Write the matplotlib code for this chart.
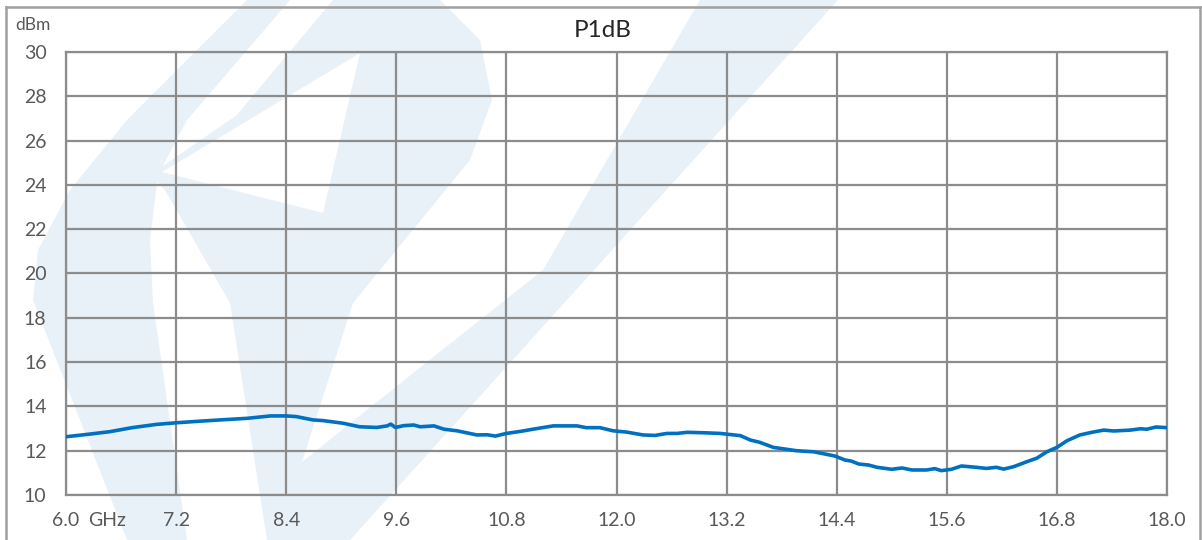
import matplotlib
matplotlib.use("Agg")
import matplotlib.pyplot as plt
from matplotlib.patches import Polygon
from matplotlib.lines import Line2D

plt.rcParams['font.family'] = ['Lato', 'DejaVu Sans']

# P1dB vs frequency
freq_ghz = [6.00, 6.26, 6.48, 6.72, 6.99, 7.20, 7.45, 7.68, 7.97, 8.23, 8.40, 8.51,
            8.69, 8.80, 9.02, 9.20, 9.39, 9.50, 9.54, 9.59, 9.68, 9.79, 9.86, 10.01,
            10.12, 10.26, 10.48, 10.59, 10.68, 10.80, 10.95, 11.09, 11.31, 11.57, 11.67,
            11.82, 11.96, 12.11, 12.29, 12.42, 12.55, 12.66, 12.77, 12.95, 13.13, 13.35,
            13.46, 13.56, 13.71, 13.96, 14.15, 14.38, 14.49, 14.56, 14.64, 14.75, 14.84,
            15.00, 15.11, 15.22, 15.38, 15.47, 15.54, 15.65, 15.76, 15.92, 16.03, 16.14,
            16.22, 16.33, 16.47, 16.58, 16.69, 16.80, 16.91, 17.05, 17.18, 17.31, 17.42,
            17.60, 17.71, 17.78, 17.88, 18.00]
p1db_dbm = [12.63, 12.75, 12.86, 13.04, 13.19, 13.26, 13.33, 13.39, 13.46, 13.57, 13.57, 13.54,
            13.39, 13.36, 13.24, 13.08, 13.05, 13.12, 13.20, 13.05, 13.13, 13.16, 13.08, 13.12,
            12.97, 12.90, 12.71, 12.72, 12.66, 12.78, 12.87, 12.97, 13.12, 13.12, 13.04,
            13.04, 12.90, 12.84, 12.71, 12.69, 12.78, 12.78, 12.83, 12.81, 12.78, 12.68,
            12.48, 12.38, 12.15, 12.00, 11.95, 11.76, 11.58, 11.53, 11.40, 11.35, 11.25,
            11.16, 11.22, 11.13, 11.13, 11.19, 11.10, 11.16, 11.31, 11.25, 11.20, 11.25,
            11.17, 11.28, 11.50, 11.66, 11.95, 12.15, 12.45, 12.71, 12.83, 12.93, 12.89,
            12.93, 12.99, 12.97, 13.07, 13.04]

x_ticks = [6.0, 7.2, 8.4, 9.6, 10.8, 12.0, 13.2, 14.4, 15.6, 16.8, 18.0]
x_labels = ['6.0', '7.2', '8.4', '9.6', '10.8', '12.0', '13.2', '14.4', '15.6', '16.8', '18.0']
y_ticks = list(range(10, 31, 2))

W, H = 1202, 540
fig = plt.figure(figsize=(W / 100, H / 100), dpi=100)

# faint logo in the background (pixel outline, y downward)
logo_light = [
    [(247, 0), (290, 0), (187, 120), (158, 175), (150, 240), (153, 303), (187, 540),
     (127, 540), (33, 300), (38, 250), (70, 190), (127, 120)],
    [(333, 0), (440, 0), (480, 40), (492, 100), (470, 160), (353, 303), (302, 462),
     (300, 540), (267, 540), (230, 303), (165, 190), (150, 175), (237, 115)],
    [(290, 540), (350, 540), (838, 0), (700, 0), (543, 270), (417, 370), (302, 462)],
]
logo_hole = [(162, 172), (360, 53), (323, 213)]

def to_fig(pts):
    return [(x / W, 1 - y / H) for x, y in pts]

for shape in logo_light:
    fig.add_artist(Polygon(to_fig(shape), closed=True, transform=fig.transFigure,
                           facecolor='#e8f0f8', edgecolor='none', zorder=-2))
fig.add_artist(Polygon(to_fig(logo_hole), closed=True, transform=fig.transFigure,
                       facecolor='white', edgecolor='none', zorder=-1))

# outer chart frame
frame_kw = dict(transform=fig.transFigure, color='#a0a0a0', lw=1.8, zorder=-1)
fig.add_artist(Line2D([6 / W, 6 / W], [0, 1 - 7 / H], **frame_kw))
fig.add_artist(Line2D([6 / W, 1200 / W], [1 - 7 / H, 1 - 7 / H], **frame_kw))
fig.add_artist(Line2D([1200 / W, 1200 / W], [0, 1 - 7 / H], **frame_kw))

ax = fig.add_axes([66 / W, 45 / H, 1101 / W, 443 / H])
ax.set_facecolor('none')

ax.plot(freq_ghz, p1db_dbm, color='#0070c0', lw=2.6, solid_joinstyle='round', zorder=3)

ax.set_xlim(6, 18)
ax.set_ylim(10, 30)
ax.set_xticks(x_ticks)
ax.set_xticklabels(x_labels)
ax.set_yticks(y_ticks)
ax.grid(True, color='#8c8c8c', lw=1.6)
ax.tick_params(length=0, labelsize=14, labelcolor='#595959')
ax.tick_params(axis='x', pad=12)
ax.tick_params(axis='y', pad=14)
for s in ax.spines.values():
    s.set_color('#8c8c8c')
    s.set_linewidth(1.6)

# unit next to the first frequency label
ax.annotate('GHz', xy=(6.0, 0), xycoords=('data', 'axes fraction'),
            xytext=(16, -12), textcoords='offset points', ha='left', va='top',
            fontsize=14, color='#595959')
fig.text(15 / W, 1 - 25 / H, 'dBm', ha='left', va='center', fontsize=12.5, color='#595959')
fig.text(603 / W, 1 - 31 / H, 'P1dB', ha='center', va='center', fontsize=17.5, color='#262626')

fig.savefig('out.png', dpi=100)
